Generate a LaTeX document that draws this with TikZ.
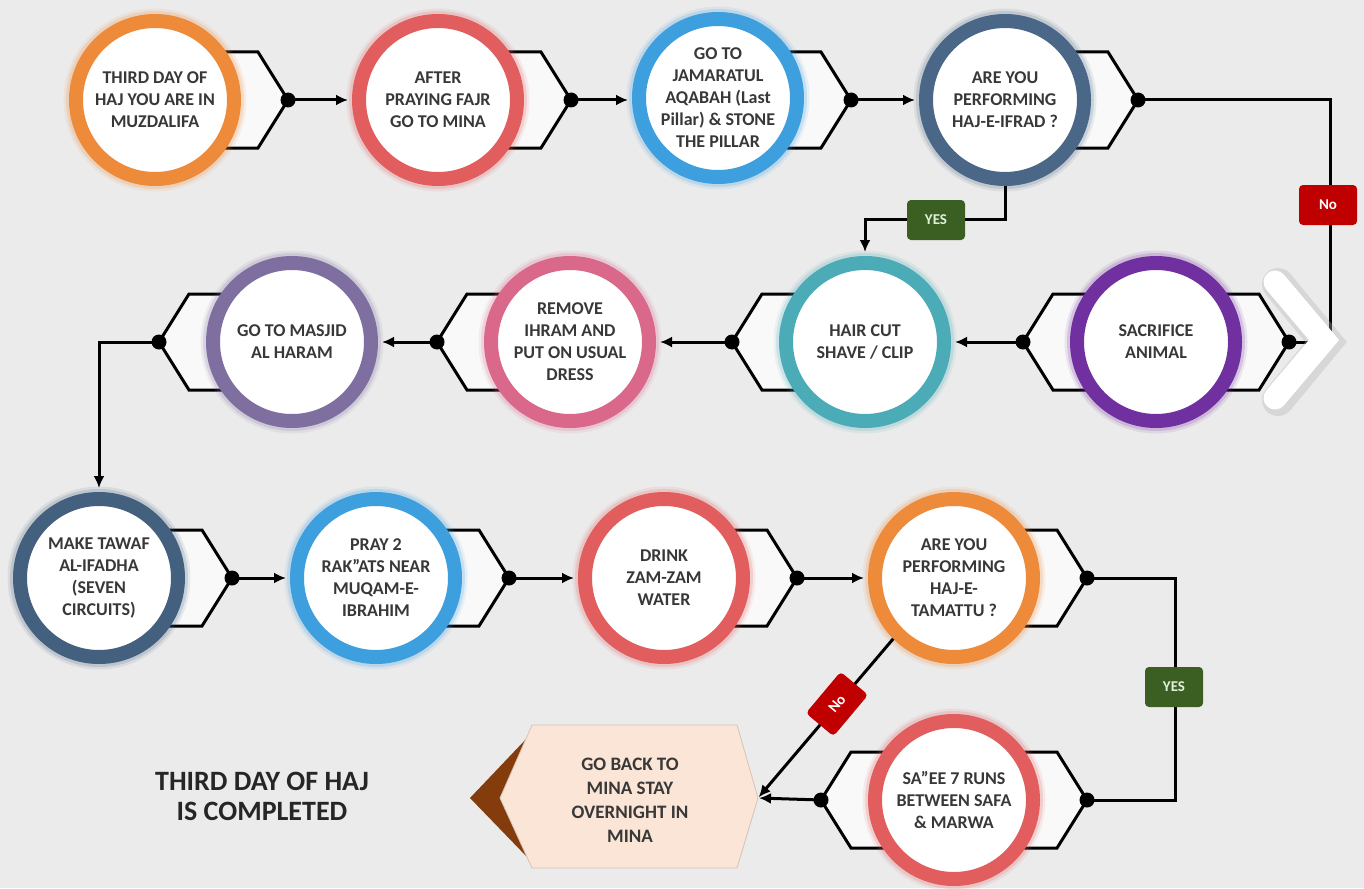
\documentclass[tikz,border=0pt]{standalone}
\usepackage{fontspec}
\setmainfont{Carlito}
\usetikzlibrary{arrows.meta,calc}
\definecolor{bg}{HTML}{EBEBEB}
\definecolor{txt}{HTML}{383838}
\definecolor{cOrange}{HTML}{EE8B3B}
\definecolor{cRed}{HTML}{E25D5D}
\definecolor{cBlue}{HTML}{3D9FDE}
\definecolor{cSlate}{HTML}{4A6787}
\definecolor{cPurple}{HTML}{7030A0}
\definecolor{cTeal}{HTML}{4BACB8}
\definecolor{cPink}{HTML}{D9688B}
\definecolor{cLav}{HTML}{7F6FA0}
\definecolor{cDark}{HTML}{44607F}
\definecolor{yesg}{HTML}{3B5E22}
\definecolor{yest}{HTML}{E2EFDA}
\definecolor{nor}{HTML}{C00000}
\definecolor{peach}{HTML}{FBE5D6}
\definecolor{brown}{HTML}{843C0C}
\newcommand\circfont{\fontsize{18}{22}\selectfont\bfseries}
\newcommand\rchev[2]{\filldraw[hexa] (#1,#2-48) -- (#1+103,#2-48) -- (#1+133,#2) -- (#1+103,#2+48) -- (#1,#2+48) -- cycle;}
\newcommand\lchev[2]{\filldraw[hexa] (#1,#2-48) -- (#1-103,#2-48) -- (#1-133,#2) -- (#1-103,#2+48) -- (#1,#2+48) -- cycle;}
\begin{document}
\begin{tikzpicture}[x=1pt,y=-1pt,
  ring/.style={circle, draw=#1, line width=14pt, fill=white, minimum size=158pt, inner sep=0pt,
    align=center, font=\circfont, text=txt,
    preaction={draw=#1, draw opacity=.10, line width=25pt},
    preaction={draw=#1, draw opacity=.18, line width=20pt}},
  hexa/.style={fill=white!70!bg, draw=black, line width=3pt, line join=miter},
  conn/.style={line width=3pt, draw=black},
  arr/.style={conn, -{Latex[length=12pt,width=11pt]}, shorten >=4pt},
  dot/.style={circle, fill=black, minimum size=15pt, inner sep=0pt},
  lab/.style={rounded corners=4pt, minimum width=58pt, minimum height=40pt, inner sep=0pt,
    font=\fontsize{15}{15}\selectfont\bfseries},
  yes/.style={lab, fill=yesg, text=yest},
  nolab/.style={lab, fill=nor, text=white}]
\fill[bg] (0,0) rectangle (1364,888);
\useasboundingbox (0,0) rectangle (1364,888);

% chevron backgrounds
\rchev{155}{100}\rchev{438}{100}\rchev{718}{100}\rchev{1005}{100}
\lchev{1156}{342}\rchev{1156}{342}\lchev{865}{342}\lchev{570}{342}\lchev{292}{342}
\rchev{99}{578}\rchev{376}{578}\rchev{664}{578}\rchev{954}{578}
\lchev{954}{800}\rchev{954}{800}

% tips
\coordinate (t1) at (155+133,100);
\coordinate (t2) at (438+133,100);
\coordinate (t3) at (718+133,100);
\coordinate (t4) at (1005+133,100);
\coordinate (t5r) at (1156+133,342);
\coordinate (t5) at (1156-133,342);
\coordinate (t6) at (865-133,342);
\coordinate (t7) at (570-133,342);
\coordinate (t8) at (292-133,342);
\coordinate (t9) at (99+133,578);
\coordinate (t10) at (376+133,578);
\coordinate (t11) at (664+133,578);
\coordinate (t12) at (954+133,578);
\coordinate (t13r) at (954+133,800);
\coordinate (t13) at (954-133,800);
\coordinate (k1) at (1330,100);
\coordinate (k2) at (1330,342);
\coordinate (ya) at (1005,219);
\coordinate (kb) at (1175,800);
\coordinate (mina) at (758,798);

% circles
\node[ring=cOrange] (c1) at (155,100) {THIRD DAY OF\\HAJ YOU ARE IN\\MUZDALIFA};
\node[ring=cRed] (c2) at (438,100) {AFTER\\PRAYING FAJR\\GO TO MINA};
\node[ring=cBlue] (c3) at (718,98) {GO TO\\JAMARATUL\\AQABAH (Last\\Pillar) \& STONE\\THE PILLAR};
\node[ring=cSlate] (c4) at (1005,100) {ARE YOU\\PERFORMING\\HAJ-E-IFRAD ?};
\node[ring=cPurple] (c5) at (1156,342) {SACRIFICE\\ANIMAL};
\node[ring=cTeal] (c6) at (865,342) {HAIR CUT\\SHAVE / CLIP};
\node[ring=cPink] (c7) at (570,342) {REMOVE\\IHRAM AND\\PUT ON USUAL\\DRESS};
\node[ring=cLav] (c8) at (292,342) {GO TO MASJID\\AL HARAM};
\node[ring=cDark] (c9) at (99,578) {MAKE TAWAF\\AL-IFADHA\\(SEVEN\\CIRCUITS)};
\node[ring=cBlue] (c10) at (376,578) {PRAY 2\\RAK”ATS NEAR\\MUQAM-E-\\IBRAHIM};
\node[ring=cRed] (c11) at (664,578) {DRINK\\ZAM-ZAM\\WATER};
\node[ring=cOrange] (c12) at (954,578) {ARE YOU\\PERFORMING\\HAJ-E-\\TAMATTU ?};
\node[ring=cRed] (c13) at (954,800) {SA”EE 7 RUNS\\BETWEEN SAFA\\\& MARWA};

% final box
\fill[brown] (528,737) -- (470,798) -- (528,858) -- (560,858) -- (560,737) -- cycle;
\filldraw[fill=peach, draw=peach!85!black, line width=0.8pt] (532,725) -- (737,725) -- (758,798) -- (737,868) -- (532,868) -- (500,798) -- cycle;
\node[align=center, font=\fontsize{19}{24}\selectfont\bfseries, text=txt] (mt) at (630,800) {GO BACK TO\\MINA STAY\\OVERNIGHT IN\\MINA};

% connectors
\draw[arr] (t1) -- (c2.west);
\draw[arr] (t2) -- (c3.west |- t2);
\draw[arr] (t3) -- (c4.west);
\draw[conn] (t4) -- (k1) -- (k2) -- (t5r);
\draw[arr] (c4.south) -- (ya) -| (c6.north);
\draw[arr] (t5) -- (c6.east);
\draw[arr] (t6) -- (c7.east);
\draw[arr] (t7) -- (c8.east);
\draw[arr] (t8) -| (c9.north);
\draw[arr] (t9) -- (c10.west);
\draw[arr] (t10) -- (c11.west);
\draw[arr] (t11) -- (c12.west);
\draw[conn] (t12) -| (kb) -- (t13r);
\draw[arr, shorten >=1pt] (t13) -- (mina);
\draw[arr, shorten >=1pt] (c12.225) -- (mina);

% dots
\foreach \t in {t1,t2,t3,t4,t5r,t5,t6,t7,t8,t9,t10,t11,t12,t13r,t13}
  \node[dot] at (\t) {};

% big white chevron
\draw[gray!60, opacity=.35, line width=32pt, line cap=round, line join=miter] (1278,284) -- (1326,342) -- (1278,400);
\draw[white, line width=23pt, line cap=round, line join=miter] (1275,282) -- (1324,340) -- (1275,398);

% labels
\node[nolab] (no1) at (1328,205) {No};
\node[yes] (yes1) at (936,220) {YES};
\node[yes] (yes2) at (1174,687) {YES};
\node[nolab, rotate=50, minimum width=54pt, minimum height=36pt] (no2) at (837,704) {No};

\node[align=center, font=\fontsize{28}{30}\selectfont\bfseries, text=black!85] (done) at (262,796) {THIRD DAY OF HAJ\\IS COMPLETED};
\end{tikzpicture}
\end{document}
